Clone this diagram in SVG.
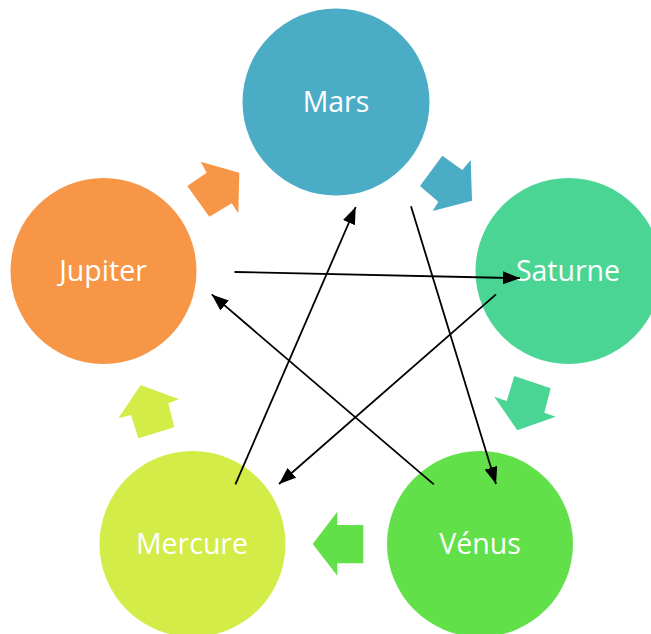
<svg xmlns="http://www.w3.org/2000/svg" width="651" height="634" viewBox="0 0 651 634">
<defs>
<style>
.lbl{font-family:"Open Sans","Liberation Sans",sans-serif;font-size:28.5px;fill:#ffffff;text-anchor:middle}
.con{stroke:#000;stroke-width:1.8;fill:none;marker-end:url(#ah)}
</style>
<marker id="ah" viewBox="0 0 10 10" refX="10" refY="5" markerWidth="17" markerHeight="13" markerUnits="userSpaceOnUse" orient="auto" preserveAspectRatio="none">
<path d="M0,0 L10,5 L0,10 Z" fill="#000"/>
</marker>
</defs>
<rect width="651" height="634" fill="#ffffff"/>
<g id="cycle-arrows">
<polygon fill="#F79646" points="200.7,161.7 206.7,172.7 187.3,186 209.3,216.7 231.7,203.3 238.3,213.3 239.3,172.7"/>
<polygon fill="#4BACC6" points="442.3,155.7 462.3,170 470.7,160 472,200.7 432.7,211 438.3,201.7 420,186"/>
<polygon fill="#4AD594" points="514.3,376 550.7,388.3 544.3,412.7 555.7,416.7 517.3,430.3 494.3,396.7 506.7,401"/>
<polygon fill="#62E04A" points="337.3,511.7 337.3,525 363.3,525 363.3,563.3 337.3,563.3 337.3,575.7 312.7,544"/>
<polygon fill="#D4EC48" points="140.7,385 179,399.3 168.3,403.3 174.3,427.3 138.3,438.3 131,415 118.3,418.3"/>
</g>
<g id="mars"><circle cx="336" cy="102" r="93.5" fill="#4BACC6"/><text class="lbl" x="336" y="112">Mars</text></g>
<g id="saturne"><circle cx="568.5" cy="271" r="93" fill="#4AD594"/><text class="lbl" x="568" y="281">Saturne</text></g>
<g id="venus"><circle cx="480" cy="544" r="93" fill="#62E04A"/><text class="lbl" x="480" y="554">Vénus</text></g>
<g id="mercure"><circle cx="192.5" cy="544" r="93" fill="#D4EC48"/><text class="lbl" x="192" y="554">Mercure</text></g>
<g id="jupiter"><circle cx="103.5" cy="271" r="93" fill="#F79646"/><text class="lbl" x="103" y="281">Jupiter</text></g>
<g id="connectors">
<line class="con" x1="234.5" y1="272" x2="520" y2="278.2"/>
<line class="con" x1="496" y1="294.4" x2="279" y2="484"/>
<line class="con" x1="235.4" y1="484.4" x2="355.7" y2="207"/>
<line class="con" x1="411" y1="206.2" x2="496" y2="484"/>
<line class="con" x1="433.8" y1="484.4" x2="211.7" y2="294.4"/>
</g>
</svg>
